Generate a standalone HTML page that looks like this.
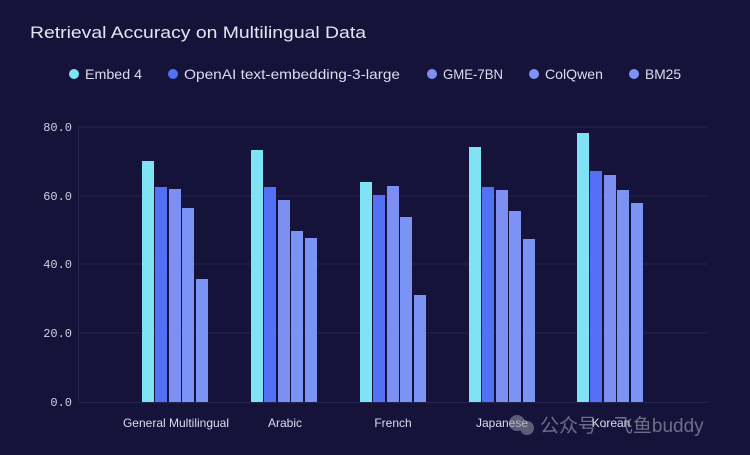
<!DOCTYPE html>
<html><head><meta charset="utf-8"><style>
body{margin:0;background:#15133a;}
svg{display:block}
</style></head><body>
<svg width="750" height="455" viewBox="0 0 750 455" xmlns="http://www.w3.org/2000/svg">
<rect width="750" height="455" fill="#15133a"/>
<text x="30" y="38" font-family="Liberation Sans, sans-serif" font-size="17" fill="#e6e6f0" textLength="336" lengthAdjust="spacingAndGlyphs">Retrieval Accuracy on Multilingual Data</text>
<g font-family="Liberation Sans, sans-serif" font-size="14" fill="#dcdcf0">
<circle cx="74" cy="74" r="5" fill="#7fe3f5"/><text x="85" y="79" textLength="57" lengthAdjust="spacingAndGlyphs">Embed 4</text>
<circle cx="173" cy="74" r="5" fill="#5470f5"/><text x="184" y="79" textLength="216" lengthAdjust="spacingAndGlyphs">OpenAI text-embedding-3-large</text>
<circle cx="432" cy="74" r="5" fill="#8090f0"/><text x="443" y="79" textLength="60" lengthAdjust="spacingAndGlyphs">GME-7BN</text>
<circle cx="534" cy="74" r="5" fill="#7f93f5"/><text x="545" y="79" textLength="58" lengthAdjust="spacingAndGlyphs">ColQwen</text>
<circle cx="634" cy="74" r="5" fill="#7f93f5"/><text x="645" y="79" textLength="36" lengthAdjust="spacingAndGlyphs">BM25</text>
</g>
<g stroke="#26254f" stroke-width="1">
<line x1="78" y1="127" x2="707" y2="127"/><line x1="78" y1="196" x2="707" y2="196"/>
<line x1="78" y1="264" x2="707" y2="264"/><line x1="78" y1="333" x2="707" y2="333"/>
<line x1="78" y1="402.5" x2="707" y2="402.5"/><line x1="78.5" y1="125" x2="78.5" y2="402"/>
</g>
<g font-family="Liberation Mono, monospace" font-size="12" fill="#cfcfe0" text-anchor="end">
<text x="72" y="131">80.0</text><text x="72" y="200">60.0</text><text x="72" y="268">40.0</text><text x="72" y="337">20.0</text><text x="72" y="406">0.0</text>
</g>
<g>
<rect x="142" y="161" width="12" height="241" fill="#7fe3f5"/>
<rect x="155" y="187" width="12" height="215" fill="#5470f5"/>
<rect x="169" y="189" width="12" height="213" fill="#7d8ff2"/>
<rect x="182" y="208" width="12" height="194" fill="#7b93f5"/>
<rect x="196" y="279" width="12" height="123" fill="#7b93f5"/>
<rect x="251" y="150" width="12" height="252" fill="#7fe3f5"/>
<rect x="264" y="187" width="12" height="215" fill="#5470f5"/>
<rect x="278" y="200" width="12" height="202" fill="#7d8ff2"/>
<rect x="291" y="231" width="12" height="171" fill="#7b93f5"/>
<rect x="305" y="238" width="12" height="164" fill="#7b93f5"/>
<rect x="360" y="182" width="12" height="220" fill="#7fe3f5"/>
<rect x="373" y="195" width="12" height="207" fill="#5470f5"/>
<rect x="387" y="186" width="12" height="216" fill="#7d8ff2"/>
<rect x="400" y="217" width="12" height="185" fill="#7b93f5"/>
<rect x="414" y="295" width="12" height="107" fill="#7b93f5"/>
<rect x="469" y="147" width="12" height="255" fill="#7fe3f5"/>
<rect x="482" y="187" width="12" height="215" fill="#5470f5"/>
<rect x="496" y="190" width="12" height="212" fill="#7d8ff2"/>
<rect x="509" y="211" width="12" height="191" fill="#7b93f5"/>
<rect x="523" y="239" width="12" height="163" fill="#7b93f5"/>
<rect x="577" y="133" width="12" height="269" fill="#7fe3f5"/>
<rect x="590" y="171" width="12" height="231" fill="#5470f5"/>
<rect x="604" y="175" width="12" height="227" fill="#7d8ff2"/>
<rect x="617" y="190" width="12" height="212" fill="#7b93f5"/>
<rect x="631" y="203" width="12" height="199" fill="#7b93f5"/>
</g>
<g font-family="Liberation Sans, sans-serif" font-size="12" fill="#dcdcf0" text-anchor="middle">
<text x="176" y="427">General Multilingual</text><text x="285" y="427">Arabic</text>
<text x="393" y="427">French</text><text x="502" y="427">Japanese</text><text x="611" y="427">Korean</text>
</g>
<g opacity="0.55">
<circle cx="517" cy="423" r="8" fill="#9a9aa8"/><circle cx="527" cy="428" r="7" fill="#9a9aa8"/>
<text x="540" y="432" font-family="Liberation Sans, 'Noto Sans CJK SC', sans-serif" font-size="19" fill="#b8b8c8">公众号 · 飞鱼buddy</text>
</g>
</svg>
</body></html>
